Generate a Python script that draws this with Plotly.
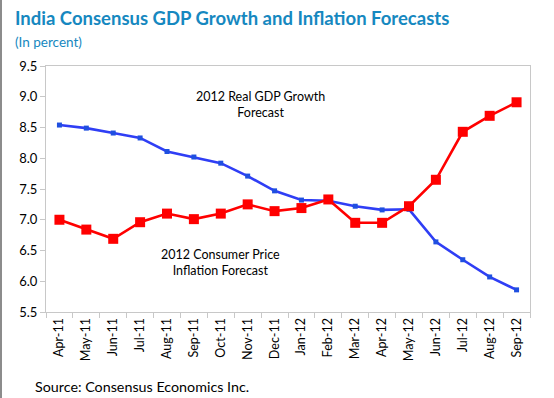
import plotly.graph_objects as go

months = ["Apr-11", "May-11", "Jun-11", "Jul-11", "Aug-11", "Sep-11", "Oct-11", "Nov-11",
          "Dec-11", "Jan-12", "Feb-12", "Mar-12", "Apr-12", "May-12", "Jun-12", "Jul-12",
          "Aug-12", "Sep-12"]
gdp_growth = [8.54, 8.49, 8.41, 8.33, 8.11, 8.02, 7.92, 7.71, 7.47, 7.32, 7.31, 7.22,
              7.16, 7.17, 6.64, 6.35, 6.07, 5.86]
cpi_inflation = [7.00, 6.84, 6.69, 6.96, 7.10, 7.01, 7.10, 7.25, 7.14, 7.19, 7.33, 6.95,
                 6.95, 7.22, 7.65, 8.43, 8.69, 8.91]
y_ticks = [5.5, 6.0, 6.5, 7.0, 7.5, 8.0, 8.5, 9.0, 9.5]

FONT = "Lato"
W, H = 554, 398
L, R, T, B = 46, 24, 66, 85.5
pw = W - L - R
ph = H - T - B

fig = go.Figure()
fig.add_trace(go.Scatter(
    x=months, y=gdp_growth, mode="lines+markers",
    line=dict(color="#2f3ef5", width=2.6),
    marker=dict(symbol="square", size=5, color="#1f4fe0"),
    name="2012 Real GDP Growth Forecast", cliponaxis=False,
))
fig.add_trace(go.Scatter(
    x=months, y=cpi_inflation, mode="lines+markers",
    line=dict(color="#ff0000", width=2.6),
    marker=dict(symbol="square", size=10, color="#ff0000"),
    name="2012 Consumer Price Inflation Forecast", cliponaxis=False,
))

fig.update_layout(
    width=W, height=H,
    margin=dict(l=L, r=R, t=T, b=B),
    paper_bgcolor="white", plot_bgcolor="white",
    showlegend=False,
    font=dict(family=FONT, size=12, color="#000000"),
    xaxis=dict(
        type="category", range=[-0.5, 17.5],
        showgrid=False, showline=True, linecolor="#c8c8c8", linewidth=1.2, mirror=True,
        ticks="outside", tickson="boundaries", ticklen=5, tickcolor="#c8c8c8",
        tickangle=-90, tickfont=dict(family=FONT, size=12.5, color="#000000"),
    ),
    yaxis=dict(
        range=[5.5, 9.5], tickvals=y_ticks, ticktext=[f"{v:.1f}" for v in y_ticks],
        showgrid=False, showline=True, linecolor="#c8c8c8", linewidth=1.2, mirror=True,
        ticks="outside", ticklen=5, tickcolor="#c8c8c8", zeroline=False,
        tickfont=dict(family=FONT, size=13, color="#000000"),
    ),
    annotations=[
        dict(text="<b>India Consensus GDP Growth and Inflation Forecasts</b>",
             xref="paper", yref="paper", x=(13 - L) / pw, y=1 + (T - 18) / ph,
             xanchor="left", yanchor="middle", showarrow=False,
             font=dict(family=FONT, size=18.5, color="#1688c0")),
        dict(text="(In percent)",
             xref="paper", yref="paper", x=(13 - L) / pw, y=1 + (T - 42) / ph,
             xanchor="left", yanchor="middle", showarrow=False,
             font=dict(family=FONT, size=13.5, color="#1688c0")),
        dict(text="Source: Consensus Economics Inc.",
             xref="paper", yref="paper", x=(33 - L) / pw, y=-(387 - (H - B)) / ph,
             xanchor="left", yanchor="middle", showarrow=False,
             font=dict(family=FONT, size=14.3, color="#000000")),
        dict(text="2012 Real GDP Growth<br>Forecast", x=7.46, y=8.87,
             showarrow=False, xanchor="center", yanchor="middle",
             font=dict(family=FONT, size=12.5, color="#000000")),
        dict(text="2012 Consumer Price<br>Inflation Forecast", x=5.99, y=6.30,
             showarrow=False, xanchor="center", yanchor="middle",
             font=dict(family=FONT, size=12.5, color="#000000")),
    ],
    shapes=[
        # thin grey frame strip along the left edge of the page
        dict(type="rect", xref="paper", yref="paper", layer="above",
             x0=(0 - L) / pw, x1=(2 - L) / pw, y0=-(B + 5) / ph, y1=1 + (T + 5) / ph,
             fillcolor="#8c8c8c", line=dict(width=0)),
    ],
)

fig.write_html("out.html")
